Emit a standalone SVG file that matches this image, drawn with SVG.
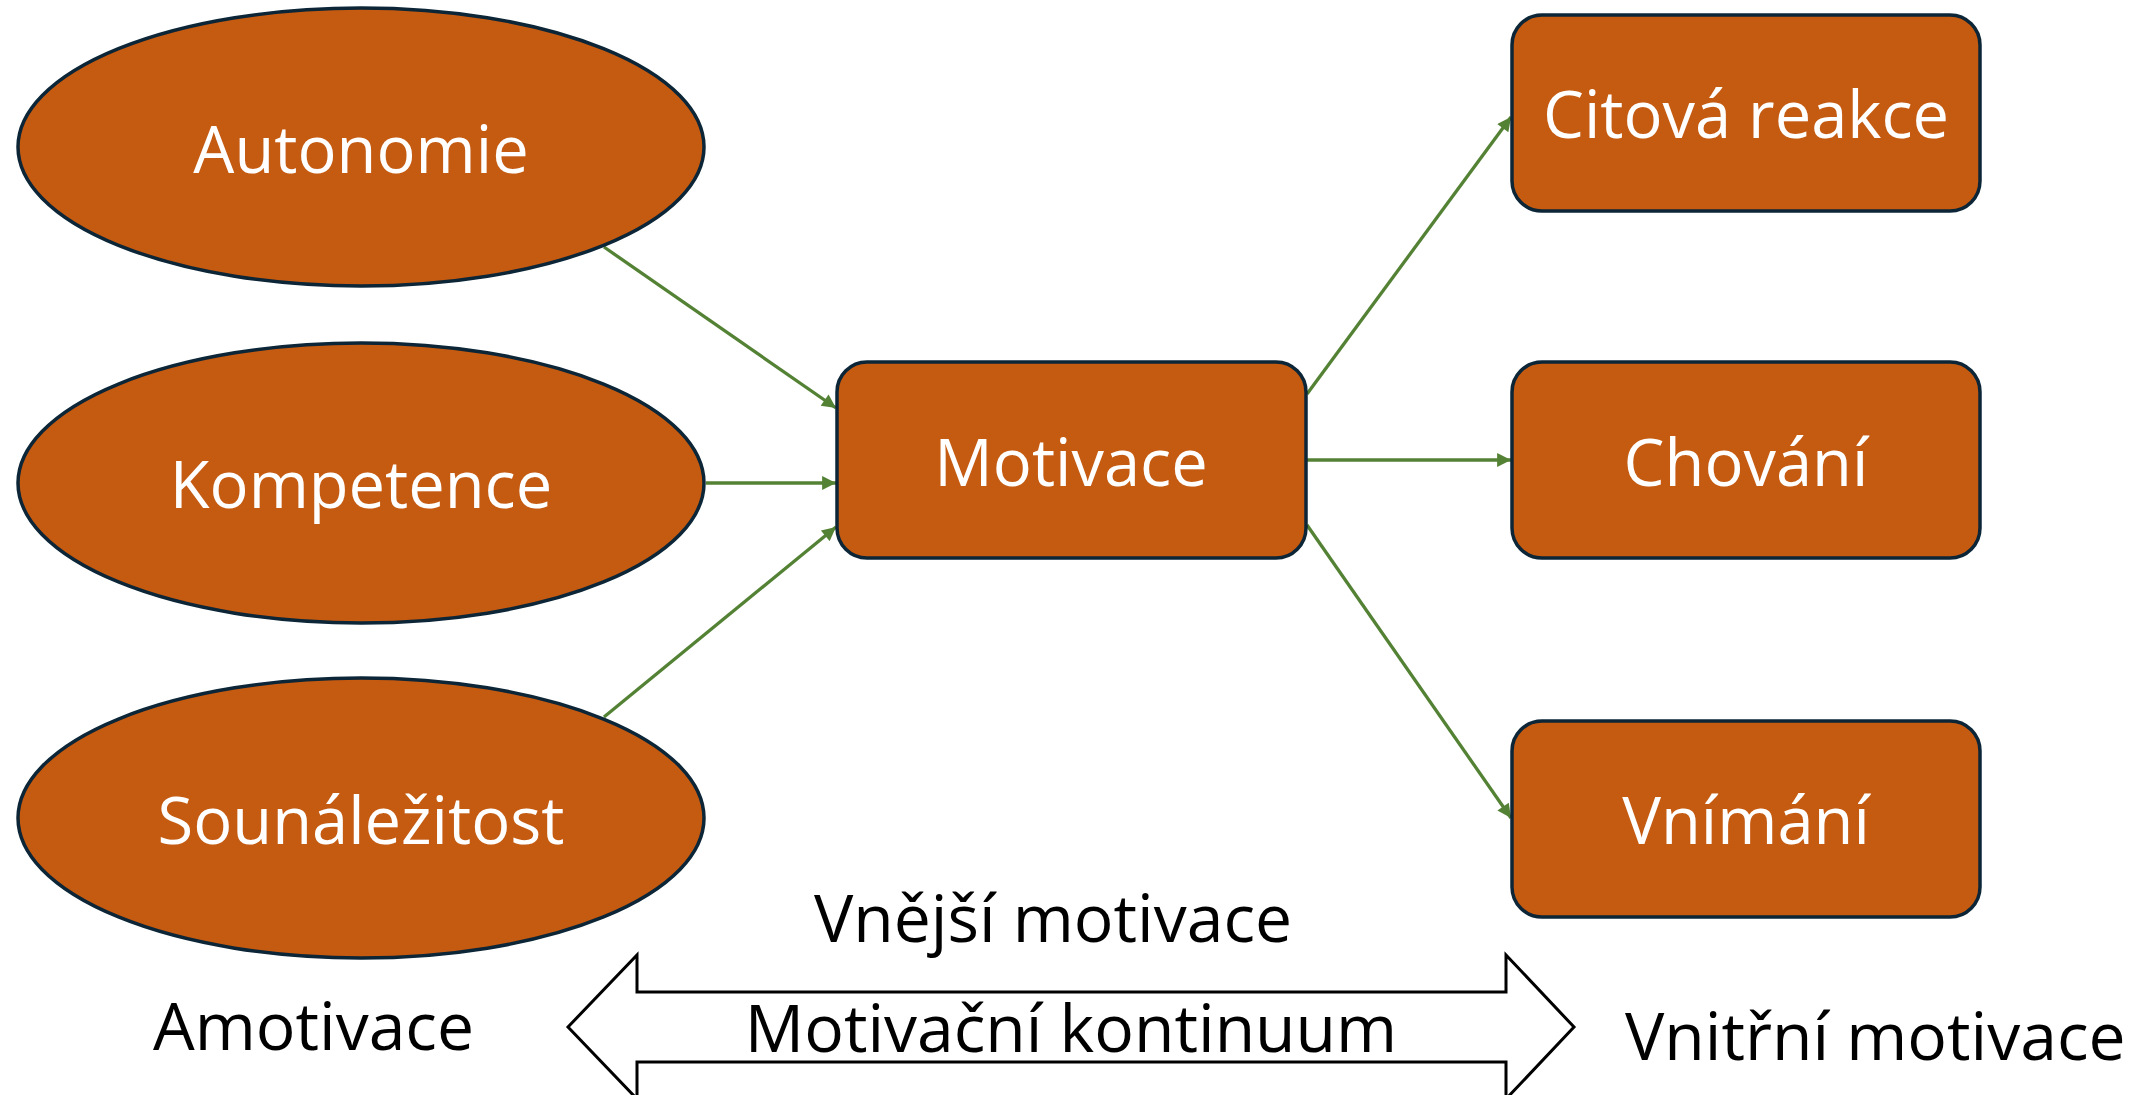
<svg xmlns="http://www.w3.org/2000/svg" width="2139" height="1095" viewBox="0 0 2139 1095">
<defs>
<style>
.node{fill:#c55a11;stroke:#0c2637;stroke-width:3.5}
.lbl{font-family:"Open Sans","Noto Sans",sans-serif;font-size:65px;fill:#ffffff;text-anchor:middle}
.blk{font-family:"Open Sans","Noto Sans",sans-serif;font-size:66px;fill:#000000}
.con{stroke:#548235;stroke-width:3.3;fill:none;marker-end:url(#ah)}
</style>
<marker id="ah" viewBox="0 0 10 10" refX="10" refY="5" markerWidth="4.8" markerHeight="4.2" orient="auto" markerUnits="strokeWidth">
<path d="M0,0 L10,5 L0,10 Z" fill="#548235"/>
</marker>
</defs>
<rect width="2139" height="1095" fill="#ffffff"/>
<g id="connectors">
<line class="con" x1="604" y1="247" x2="836" y2="408"/>
<line class="con" x1="706" y1="483" x2="836" y2="483"/>
<line class="con" x1="604" y1="717" x2="836" y2="527"/>
<line class="con" x1="1307" y1="394" x2="1511" y2="117"/>
<line class="con" x1="1307" y1="460" x2="1511" y2="460"/>
<line class="con" x1="1307" y1="525" x2="1511" y2="818"/>
</g>
<g id="autonomie">
<ellipse class="node" cx="361" cy="147" rx="343" ry="139"/>
<text class="lbl" x="361" y="173">Autonomie</text>
</g>
<g id="kompetence">
<ellipse class="node" cx="361" cy="483" rx="343" ry="140"/>
<text class="lbl" x="361" y="508">Kompetence</text>
</g>
<g id="sounalezitost">
<ellipse class="node" cx="361" cy="818" rx="343" ry="140"/>
<text class="lbl" x="361" y="844">Sounáležitost</text>
</g>
<g id="motivace">
<rect class="node" x="837" y="362" width="469" height="196" rx="30"/>
<text class="lbl" x="1071" y="486">Motivace</text>
</g>
<g id="citova-reakce">
<rect class="node" x="1512" y="15" width="468" height="196" rx="30"/>
<text class="lbl" x="1746" y="138">Citová reakce</text>
</g>
<g id="chovani">
<rect class="node" x="1512" y="362" width="468" height="196" rx="30"/>
<text class="lbl" x="1746" y="486">Chování</text>
</g>
<g id="vnimani">
<rect class="node" x="1512" y="721" width="468" height="196" rx="30"/>
<text class="lbl" x="1746" y="844">Vnímání</text>
</g>
<g id="kontinuum">
<path d="M568,1027 L637,955 L637,992 L1506,992 L1506,955 L1574,1027 L1506,1099 L1506,1062 L637,1062 L637,1099 Z" fill="#ffffff" stroke="#000000" stroke-width="3"/>
<text class="blk" x="1071" y="1052" text-anchor="middle">Motivační kontinuum</text>
</g>
<text class="blk" x="1053" y="942" text-anchor="middle">Vnější motivace</text>
<text class="blk" x="153" y="1050">Amotivace</text>
<text class="blk" x="1625" y="1060">Vnitřní motivace</text>
</svg>
